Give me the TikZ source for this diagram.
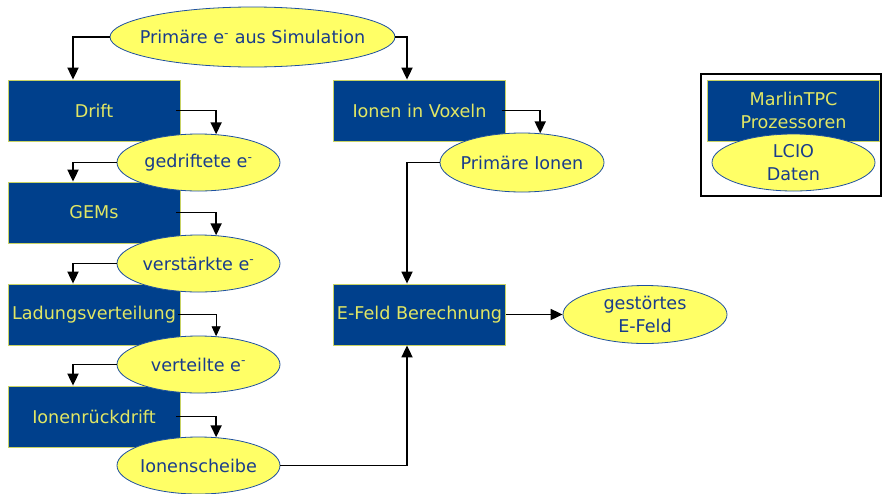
\documentclass[tikz,border=0pt]{standalone}
\usepackage{fontspec}
\setmainfont{DejaVu Sans}
\usepackage{tikz}
\usetikzlibrary{positioning,arrows.meta,shapes.geometric}

\definecolor{boxblue}{RGB}{0,64,140}
\definecolor{boxedge}{RGB}{200,210,100}
\definecolor{boxtext}{RGB}{225,230,100}
\definecolor{ellyellow}{RGB}{255,255,102}
\definecolor{ellblue}{RGB}{30,80,160}
\definecolor{elltext}{RGB}{25,60,140}

\begin{document}
\begin{tikzpicture}[
    x=1pt, y=-1pt,
    font=\fontsize{17.6}{23}\selectfont,
    proc/.style={rectangle, draw=boxedge, line width=0.8pt, fill=boxblue, text=boxtext, minimum width=172pt, minimum height=61pt, inner sep=0pt, align=center},
    data/.style={ellipse, draw=ellblue, line width=0.8pt, fill=ellyellow, text=elltext, minimum width=163pt, minimum height=57pt, inner xsep=-6pt, inner ysep=-3pt, align=center},
    flow/.style={-{Triangle[length=12pt,width=11pt]}, line width=1.8pt},
    thinflow/.style={-{Triangle[length=10pt,width=9pt]}, line width=0.9pt}
]
\useasboundingbox (0,0) rectangle (882,493);

% legend frame
\draw[line width=1.6pt] (701,74) rectangle (881,196);

\node[proc] (drift) at (94,110.5) {Drift};
\node[proc] (gems) at (94,212.5) {GEMs};
\node[proc] (ladung) at (94,314.5) {Ladungsverteilung};
\node[proc] (rueck) at (94,416.5) {Ionenrückdrift};
\node[proc] (voxel) at (419.5,110.5) {Ionen in Voxeln};
\node[proc] (efeld) at (419.5,314.5) {E-Feld Berechnung};
\node[proc] (marlin) at (793.5,110.5) {MarlinTPC\\Prozessoren};

\node[data, minimum width=285pt, minimum height=60pt, inner xsep=-16pt] (sim) at (252.5,37) {Primäre e\textsuperscript{-} aus Simulation};
\node[data] (gedr) at (198.5,162.5) {gedriftete e\textsuperscript{-}};
\node[data] (verst) at (198.5,263.5) {verstärkte e\textsuperscript{-}};
\node[data] (vert) at (198.5,364.5) {verteilte e\textsuperscript{-}};
\node[data] (scheibe) at (198.5,465.5) {Ionenscheibe};
\node[data, minimum width=164pt, minimum height=59pt] (primion) at (522,162.5) {Primäre Ionen};
\node[data, minimum width=164pt, minimum height=58pt] (gestoert) at (645,314.5) {gestörtes\\E-Feld};
\node[data] (lcio) at (793.5,162.5) {LCIO\\Daten};

\draw[flow] (sim.west) -| ([xshift=-21pt]drift.north);
\draw[flow] (sim.east) -| ([xshift=-12.5pt]voxel.north);
\draw[flow] ([xshift=-4pt]drift.east) -| (gedr.58);
\draw[flow] (gedr.west) -| ([xshift=-21pt]gems.north);
\draw[flow] ([xshift=-4pt]gems.east) -| (verst.58);
\draw[flow] (verst.west) -| ([xshift=-21pt]ladung.north);
\draw[thinflow] ([xshift=-2pt]ladung.east) -| (vert.58);
\draw[flow] (vert.west) -| ([xshift=-21pt]rueck.north);
\draw[flow] ([xshift=-4pt]rueck.east) -| (scheibe.58);
\draw[flow] (scheibe.east) -| ([xshift=-12.5pt]efeld.south);
\draw[flow] ([xshift=-4pt]voxel.east) -| (primion.58);
\draw[flow] (primion.west) -| ([xshift=-12.5pt]efeld.north);
\draw[flow] (efeld.east) -- (gestoert.west);
\end{tikzpicture}
\end{document}
